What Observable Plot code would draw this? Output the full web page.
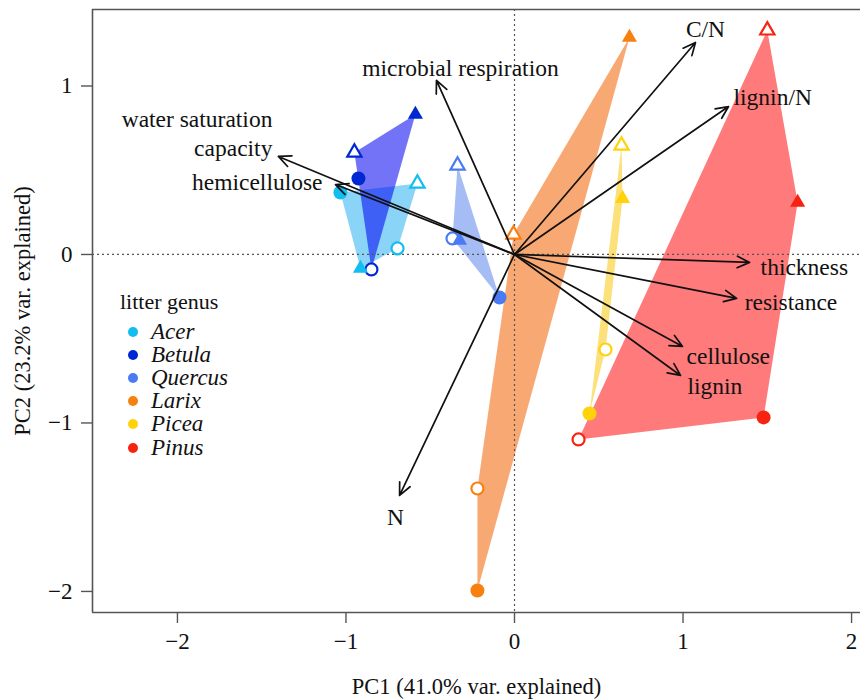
<!DOCTYPE html>
<html>
<head>
<meta charset="utf-8">
<script src="https://cdn.jsdelivr.net/npm/d3@7"></script>
<script src="https://cdn.jsdelivr.net/npm/@observablehq/plot@0.6"></script>
<style>
  body { margin: 0; background: white; }
  #wrap { position: relative; width: 860px; height: 700px; font-family: "Liberation Serif", serif; }
  #legend { position: absolute; left: 120px; top: 289px; font-size: 22px; color: #111; }
  #legend .title { margin-bottom: 5px; }
  #legend .row { display: flex; align-items: center; height: 23.2px; font-style: italic; font-size: 23px; }
  #legend .sw { width: 10px; height: 10px; border-radius: 50%; margin-left: 8px; margin-right: 13px; }
</style>
</head>
<body>
<div id="wrap"><div id="legend"></div></div>
<script>
// Genera
const genera = ["Acer", "Betula", "Quercus", "Larix", "Picea", "Pinus"];
const pointColors = ["#12BDF0", "#0028D2", "#4A7BF2", "#F88010", "#FFD20A", "#F5230F"];
const hullColors = ["#2AB1F2", "#0000F2", "#5D85ED", "#F26100", "#FAC70D", "#FF0D0D"];

// Sample scores (PC1, PC2); type: fc filled circle, oc open circle, ft filled triangle, ot open triangle
const ptGenus = [
  "Acer", "Acer", "Acer", "Acer",
  "Betula", "Betula", "Betula", "Betula",
  "Quercus", "Quercus", "Quercus", "Quercus",
  "Larix", "Larix", "Larix", "Larix",
  "Picea", "Picea", "Picea", "Picea",
  "Pinus", "Pinus", "Pinus", "Pinus"
];
const ptType = [
  "fc", "ot", "oc", "ft",
  "ot", "ft", "fc", "oc",
  "ot", "oc", "ft", "fc",
  "ft", "ot", "oc", "fc",
  "ot", "ft", "oc", "fc",
  "ot", "ft", "fc", "oc"
];
const ptPC1 = [
  -1.033, -0.576, -0.694, -0.914,
  -0.950, -0.588, -0.926, -0.849,
  -0.338, -0.368, -0.326, -0.089,
   0.682, -0.006, -0.220, -0.220,
   0.635,  0.641,  0.540,  0.445,
   1.500,  1.680,  1.478,  0.380
];
const ptPC2 = [
   0.368,  0.421,  0.036, -0.083,
   0.605,  0.831,  0.451, -0.089,
   0.528,  0.095,  0.083, -0.255,
   1.288,  0.119, -1.389, -1.994,
   0.647,  0.332, -0.564, -0.944,
   1.330,  0.309, -0.967, -1.098
];

// Variable loadings (arrow tips)
const varNames = ["C/N", "lignin/N", "thickness", "resistance", "cellulose", "lignin", "N",
  "microbial respiration", "water saturation\ncapacity", "hemicellulose"];
const varPC1 = [1.074, 1.270, 1.395, 1.318, 0.997, 0.985, -0.682, -0.463, -1.401, -1.062];
const varPC2 = [1.258, 0.878, -0.047, -0.261, -0.546, -0.718, -1.430, 1.033, 0.582, 0.415];

// Axes
const xTicks = [-2, -1, 0, 1, 2];
const yTicks = [-2, -1, 0, 1];
const xDomain = [-2.504, 2.053];
const yDomain = [-2.125, 1.454];
const xLabel = "PC1 (41.0% var. explained)";
const yLabel = "PC2 (23.2% var. explained)";
const legendTitle = "litter genus";

// Label placement (style)
const labelStyle = {
  "C/N": {anchor: "middle", dx: 10, dy: -15},
  "lignin/N": {anchor: "start", dx: 5, dy: -11},
  "thickness": {anchor: "start", dx: 11, dy: 3},
  "resistance": {anchor: "start", dx: 8, dy: 2},
  "cellulose": {anchor: "start", dx: 4, dy: 8},
  "lignin": {anchor: "start", dx: 7, dy: 9},
  "N": {anchor: "middle", dx: -4, dy: 20},
  "microbial respiration": {anchor: "middle", dx: 24, dy: -14},
  "water saturation\ncapacity": {anchor: "end", dx: -6, dy: -24},
  "hemicellulose": {anchor: "end", dx: -13, dy: -4}
};

const fmt = d => d < 0 ? "\u2212" + (-d) : String(d);

const points = ptGenus.map((g, i) => ({genus: g, type: ptType[i], pc1: ptPC1[i], pc2: ptPC2[i]}));
const loadings = varNames.map((n, i) => ({name: n, pc1: varPC1[i], pc2: varPC2[i]}));
const pColor = d => pointColors[genera.indexOf(d.genus)];
const hColor = d => hullColors[genera.indexOf(d.genus)];

const labelMarks = loadings.map(d => Plot.text([d], {
  x: "pc1", y: "pc2", text: "name", textAnchor: labelStyle[d.name].anchor, lineAnchor: "middle",
  dx: labelStyle[d.name].dx, dy: labelStyle[d.name].dy, fontSize: 23.5, lineHeight: 1.24, fill: "#111"
}));

const chart = Plot.plot({
  width: 860,
  height: 700,
  marginLeft: 92,
  marginRight: 0,
  marginTop: 9,
  marginBottom: 88,
  style: {fontFamily: "Liberation Serif", fontSize: "22px", background: "white", overflow: "visible"},
  x: {domain: xDomain},
  y: {domain: yDomain},
  color: {type: "identity"},
  marks: [
    Plot.hull(points, {x: "pc1", y: "pc2", z: "genus", fill: hColor, fillOpacity: 0.55, stroke: "none"}),
    Plot.ruleX([0], {stroke: "#555", strokeDasharray: "2,3", strokeWidth: 1.2}),
    Plot.ruleY([0], {stroke: "#555", strokeDasharray: "2,3", strokeWidth: 1.2}),
    Plot.ruleX([xDomain[0]], {stroke: "#555", strokeWidth: 1.6}),
    Plot.ruleY(yDomain, {stroke: "#555", strokeWidth: 1.6}),
    Plot.dot(points.filter(d => d.type === "fc"), {x: "pc1", y: "pc2", fill: pColor, r: 7, symbol: "circle"}),
    Plot.dot(points.filter(d => d.type === "oc"), {x: "pc1", y: "pc2", stroke: pColor, fill: "white", r: 6, strokeWidth: 2.2, symbol: "circle"}),
    Plot.dot(points.filter(d => d.type === "ft"), {x: "pc1", y: "pc2", fill: pColor, r: 5.6, symbol: "triangle"}),
    Plot.dot(points.filter(d => d.type === "ot"), {x: "pc1", y: "pc2", stroke: pColor, fill: "white", r: 5.3, strokeWidth: 2.2, symbol: "triangle"}),
    Plot.arrow(loadings, {x1: () => 0, y1: () => 0, x2: "pc1", y2: "pc2", stroke: "#111", strokeWidth: 1.7, headLength: 12, headAngle: 50}),
    ...labelMarks,
    Plot.axisX({ticks: xTicks, tickFormat: fmt, tickSize: 11, tickPadding: 9, stroke: "#555", fill: "#111", strokeWidth: 1.4,
      label: null, fontSize: 23}),
    Plot.axisY({ticks: yTicks, tickFormat: fmt, tickSize: 11, tickPadding: 9, stroke: "#555", fill: "#111", strokeWidth: 1.4,
      label: null, fontSize: 23}),
    Plot.text([xLabel], {text: d => d, frameAnchor: "bottom", lineAnchor: "middle", dy: 74, fontSize: 22.5, fill: "#111"}),
    Plot.text([yLabel], {text: d => d, frameAnchor: "left", lineAnchor: "middle", textAnchor: "middle", rotate: -90, dx: -70, fontSize: 22.5, fill: "#111"})
  ]
});

const wrap = document.getElementById("wrap");
wrap.insertBefore(chart, wrap.firstChild);

const legend = document.getElementById("legend");
const t = document.createElement("div");
t.className = "title";
t.textContent = legendTitle;
legend.appendChild(t);
genera.forEach((g, i) => {
  const row = document.createElement("div");
  row.className = "row";
  const sw = document.createElement("span");
  sw.className = "sw";
  sw.style.background = pointColors[i];
  const lab = document.createElement("span");
  lab.textContent = g;
  row.appendChild(sw);
  row.appendChild(lab);
  legend.appendChild(row);
});
</script>
</body>
</html>
